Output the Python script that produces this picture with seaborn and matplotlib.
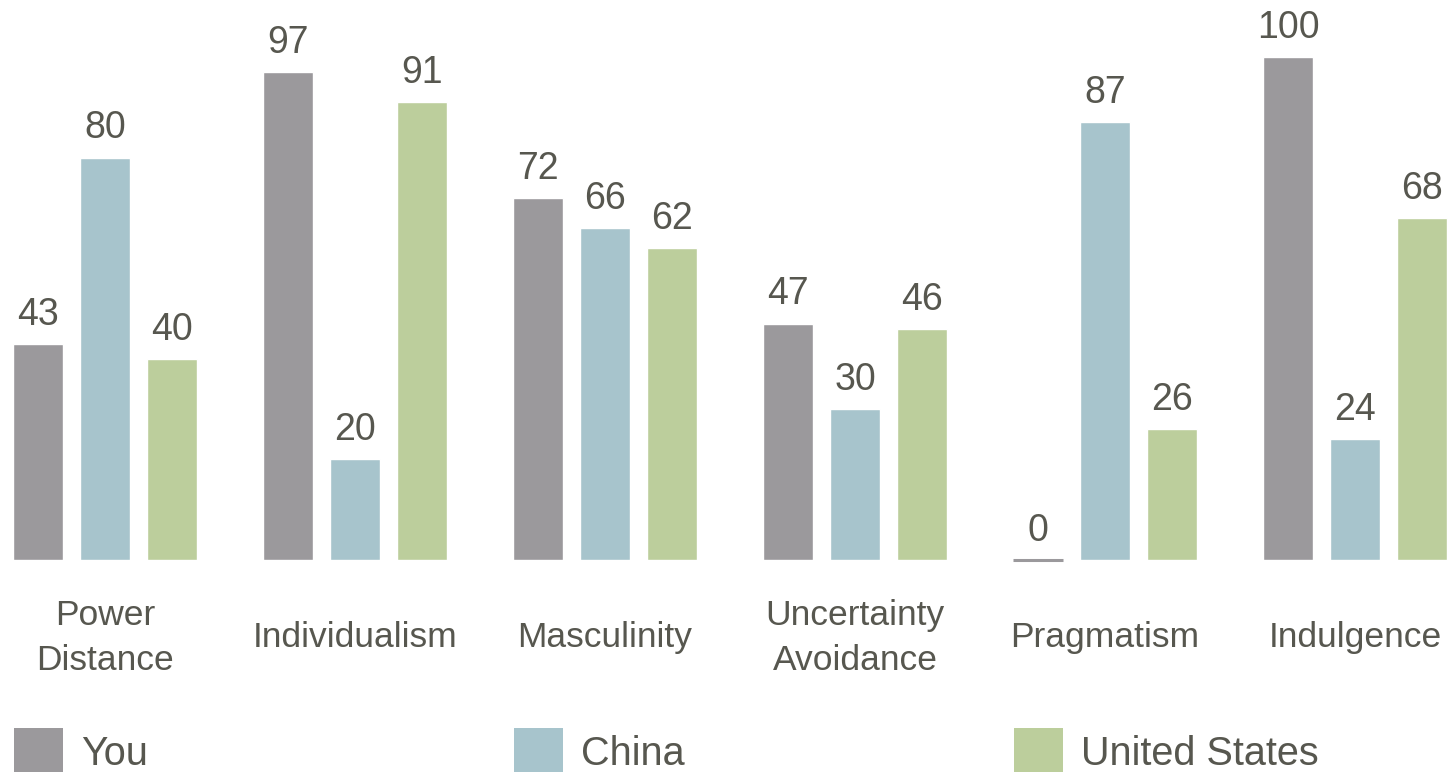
import matplotlib
matplotlib.use("Agg")
import matplotlib.pyplot as plt
import seaborn as sns
import pandas as pd
from matplotlib.patches import Patch

# ---- data ----
dimensions = ["Power\nDistance", "Individualism", "Masculinity",
              "Uncertainty\nAvoidance", "Pragmatism", "Indulgence"]
countries = ["You", "China", "United States"]
you_scores = [43, 97, 72, 47, 0, 100]
china_scores = [80, 20, 66, 30, 87, 24]
us_scores = [40, 91, 62, 46, 26, 68]
colors = ["#9b999c", "#a7c4cc", "#bcce9c"]

rows = []
for name, vals in zip(countries, [you_scores, china_scores, us_scores]):
    for d, v in zip(dimensions, vals):
        rows.append({"dimension": d, "country": name, "score": v})
df = pd.DataFrame(rows)

sns.set_theme(style="white")
plt.rcParams["font.family"] = ["Liberation Sans", "DejaVu Sans"]
text_color = "#57574f"

W, H = 1449, 772
fig = plt.figure(figsize=(W / 100, H / 100), dpi=100)
base_px = 560
ax = fig.add_axes([0, (H - base_px) / H, 1, base_px / H])

sns.barplot(data=df, x="dimension", y="score", hue="country",
            order=dimensions, hue_order=countries, palette=colors,
            width=0.804, gap=0.26, saturation=1, legend=False, ax=ax,
            errorbar=None)

ax.set_xlim(-0.42, 5.376)
ax.set_ylim(0, base_px / 5.03)

for cont in ax.containers:
    ax.bar_label(cont, fmt="%d", padding=8, fontsize=27, color=text_color)
    for p in cont:
        if p.get_height() == 0:
            p.set_edgecolor(p.get_facecolor())
            p.set_linewidth(2.2)
            p.set_clip_on(False)

for s in ax.spines.values():
    s.set_visible(False)
ax.set_xlabel("")
ax.set_ylabel("")
ax.set_yticks([])
ax.tick_params(axis="x", length=0, pad=56, labelsize=25.5, labelcolor=text_color)
for lbl in ax.get_xticklabels():
    lbl.set_verticalalignment("center")
    lbl.set_linespacing(1.45)

# legend entries placed individually
leg_x_px = [14, 514, 1014]
for name, col, xp in zip(countries, colors, leg_x_px):
    leg = fig.legend(handles=[Patch(facecolor=col, edgecolor="none")],
                     labels=[name], loc="center left",
                     bbox_to_anchor=(xp / W, (H - 752) / H),
                     frameon=False, borderpad=0, borderaxespad=0,
                     handlelength=1.24, handleheight=1.5, handletextpad=0.45,
                     fontsize=28.5, labelcolor=text_color)

fig.savefig("out.png", dpi=100)
